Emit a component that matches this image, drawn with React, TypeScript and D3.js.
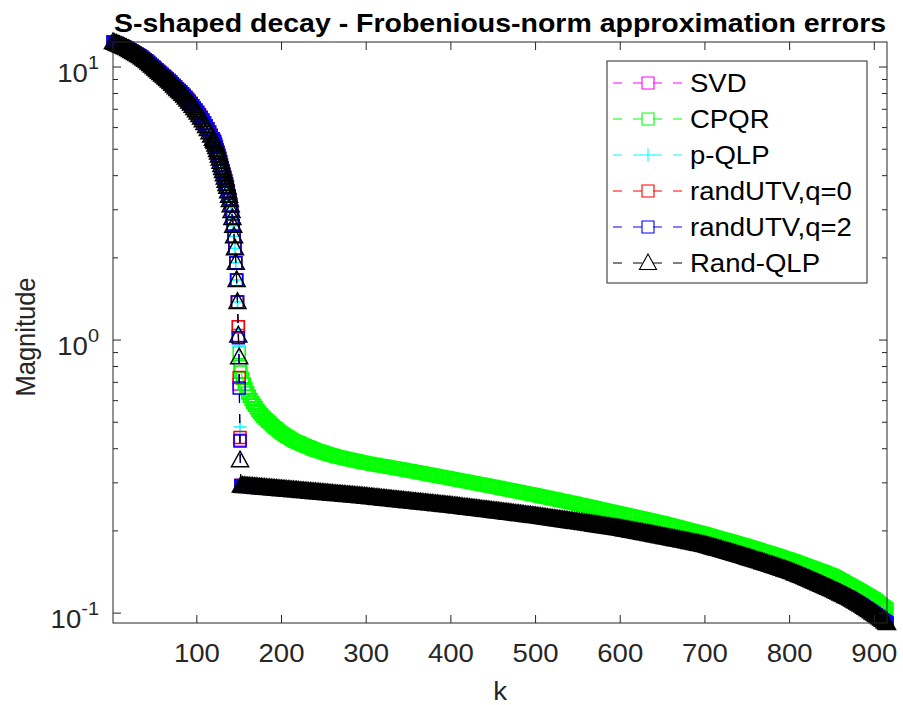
import React from "react";
import * as d3 from "d3";

// ---------- data ----------
// upper branch, shared by all methods (k = 1,3,...,119 then 120..148)
const kUpper = [...d3.range(1, 120, 2), ...d3.range(120, 149)];
const upperValues = [
  12.35, 12.27, 12.19, 12.11, 12.04, 11.96, 11.89, 11.81, 11.74, 11.64,
  11.54, 11.44, 11.35, 11.25, 11.16, 11.06, 10.97, 10.85, 10.74, 10.63,
  10.52, 10.39, 10.26, 10.13, 10.0, 9.87, 9.75, 9.63, 9.51, 9.39,
  9.27, 9.15, 9.04, 8.92, 8.81, 8.68, 8.56, 8.43, 8.31, 8.2,
  8.1, 7.98, 7.86, 7.73, 7.6, 7.47, 7.35, 7.21, 7.08, 6.94,
  6.81, 6.67, 6.53, 6.38, 6.24, 6.08, 5.93, 5.77, 5.61, 5.46,
  5.38, 5.31, 5.2, 5.09, 4.97, 4.86, 4.74, 4.62, 4.5, 4.38,
  4.27, 4.16, 4.05, 3.94, 3.83, 3.73, 3.64, 3.51, 3.38, 3.26,
  3.12, 2.97, 2.8, 2.62, 2.4, 2.17, 1.92, 1.66, 1.38,
];

// the drop, where the methods differ (k = 149, 150, 151)
const cliffK = [149, 150, 151];
const cliffSVD = [1.04, 0.69, 0.43];
const cliffCPQR = [1.12, 0.9, 0.8];
const cliffPQLP = [1.06, 0.95, 0.48];
const cliffUTV0 = [1.12, 0.73, 0.44];
const cliffUTV2 = [1.02, 0.667, 0.427];
const cliffRandQLP = [1.04, 0.866, 0.363];

// lower branch (k = 152,154,...,914, 915)
const kLower = [...d3.range(152, 915, 2), 915];
const lowerMain = [
  0.2931, 0.2927, 0.2923, 0.292, 0.2916, 0.2913, 0.2909, 0.2906, 0.2902, 0.2899, 0.2895, 0.2891, 0.2887, 0.2884, 0.288, 0.2877, 0.2873, 0.287, 0.2866, 0.2863, 0.2859, 0.2856, 0.2852, 0.2849, 0.2845,
  0.2842, 0.2838, 0.2835, 0.2831, 0.2828, 0.2824, 0.2821, 0.2817, 0.2814, 0.281,
  0.2806, 0.2802, 0.2799, 0.2795, 0.2792, 0.2788, 0.2785, 0.2781, 0.2778, 0.2774,
  0.2771, 0.2767, 0.2764, 0.276, 0.2757, 0.2753, 0.275, 0.2746, 0.2743, 0.2739,
  0.2736, 0.2732, 0.2729, 0.2725, 0.2722, 0.2718, 0.2715, 0.2711, 0.2708, 0.2705,
  0.2702, 0.2698, 0.2695, 0.2691, 0.2688, 0.2684, 0.2681, 0.2677, 0.2674, 0.267,
  0.2666, 0.2662, 0.2658, 0.2654, 0.265, 0.2646, 0.2642, 0.2638, 0.2634, 0.263,
  0.2626, 0.2622, 0.2618, 0.2614, 0.261, 0.2606, 0.2602, 0.2598, 0.2594, 0.259,
  0.2587, 0.2583, 0.2579, 0.2575, 0.2571, 0.2567, 0.2563, 0.2559, 0.2556, 0.2552,
  0.2548, 0.2544, 0.254, 0.2536, 0.2533, 0.2529, 0.2525, 0.2521, 0.2518, 0.2514,
  0.251, 0.2506, 0.2503, 0.2499, 0.2495, 0.2491, 0.2488, 0.2484, 0.248, 0.2476,
  0.2472, 0.2468, 0.2464, 0.2459, 0.2455, 0.2451, 0.2447, 0.2442, 0.2438, 0.2434,
  0.243, 0.2426, 0.2422, 0.2417, 0.2413, 0.2409, 0.2405, 0.24, 0.2396, 0.2392,
  0.2388, 0.2384, 0.238, 0.2375, 0.2371, 0.2367, 0.2363, 0.2358, 0.2354, 0.235,
  0.2346, 0.2342, 0.2338, 0.2333, 0.2329, 0.2325, 0.2321, 0.2316, 0.2312, 0.2308,
  0.2304, 0.23, 0.2296, 0.2291, 0.2287, 0.2283, 0.2279, 0.2274, 0.227, 0.2266,
  0.2262, 0.2257, 0.2253, 0.2248, 0.2244, 0.2239, 0.2235, 0.223, 0.2226, 0.2221,
  0.2217, 0.2212, 0.2208, 0.2203, 0.2199, 0.2194, 0.219, 0.2185, 0.2181, 0.2176,
  0.2172, 0.2167, 0.2163, 0.2158, 0.2154, 0.2149, 0.2145, 0.214, 0.2136, 0.2131,
  0.2127, 0.2122, 0.2118, 0.2113, 0.2109, 0.2104, 0.21, 0.2095, 0.209, 0.2085,
  0.2081, 0.2076, 0.2072, 0.2067, 0.2063, 0.2058, 0.2054, 0.2049, 0.2045, 0.204,
  0.2035, 0.2029, 0.2024, 0.2019, 0.2014, 0.2008, 0.2003, 0.1998, 0.1993, 0.1987,
  0.1982, 0.1976, 0.1971, 0.1966, 0.1961, 0.1955, 0.195, 0.1945, 0.194, 0.1934,
  0.1929, 0.1923, 0.1918, 0.1913, 0.1908, 0.1902, 0.1897, 0.1892, 0.1887, 0.1881,
  0.1876, 0.187, 0.1865, 0.186, 0.1855, 0.1849, 0.1844, 0.1839, 0.1834, 0.1828,
  0.1823, 0.1817, 0.1812, 0.1807, 0.1802, 0.1796, 0.1791, 0.1786, 0.1781, 0.1775,
  0.1768, 0.1761, 0.1754, 0.1747, 0.174, 0.1733, 0.1726, 0.1719, 0.1712, 0.1705,
  0.1698, 0.1691, 0.1684, 0.1677, 0.167, 0.1663, 0.1656, 0.1649, 0.1642, 0.1635,
  0.1628, 0.1621, 0.1614, 0.1607, 0.16, 0.1593, 0.1586, 0.1579, 0.1572, 0.1565,
  0.1558, 0.1551, 0.1544, 0.1537, 0.153, 0.1523, 0.1516, 0.1509, 0.1502, 0.1495,
  0.1488, 0.1481, 0.1474, 0.1467, 0.146, 0.1453, 0.1446, 0.1439, 0.1433, 0.1426,
  0.1418, 0.141, 0.1401, 0.1393, 0.1385, 0.1377, 0.1369, 0.1361, 0.1352, 0.1344,
  0.1336, 0.1328, 0.132, 0.1312, 0.1303, 0.1295, 0.1287, 0.1279, 0.1271, 0.1263,
  0.1254, 0.1246, 0.1238, 0.123, 0.1222, 0.1214, 0.1205, 0.1197, 0.1189, 0.1181,
  0.1173, 0.1165, 0.1156, 0.1148, 0.114,
  0.1131, 0.1122, 0.1113, 0.1104, 0.1094, 0.1085, 0.1075, 0.1066, 0.1056, 0.1046,
  0.1036, 0.1026, 0.1016, 0.1006, 0.0996, 0.0986, 0.0976, 0.0966, 0.0956, 0.0945,
  0.0934, 0.0925, 0.092,
];
const lowerCPQR = [
  0.7636, 0.725, 0.6902, 0.664, 0.6399, 0.6225, 0.6062, 0.5912, 0.5771, 0.565, 0.5534, 0.5435, 0.5341, 0.526, 0.5183, 0.5112, 0.5044, 0.4975, 0.4909, 0.4847, 0.4788, 0.473, 0.4675, 0.462, 0.4567,
  0.4525, 0.4485, 0.4445, 0.4406, 0.4366, 0.4326, 0.429, 0.4256, 0.423, 0.4205,
  0.418, 0.4154, 0.4129, 0.4104, 0.408, 0.4055, 0.403, 0.4005, 0.398, 0.3956,
  0.3939, 0.3922, 0.3905, 0.3888, 0.3871, 0.3854, 0.3837, 0.382, 0.3803, 0.3787,
  0.377, 0.3754, 0.3741, 0.3728, 0.3716, 0.3705, 0.3693, 0.3682, 0.367, 0.3658,
  0.3646, 0.3635, 0.3624, 0.3613, 0.3602, 0.3591, 0.358, 0.3568, 0.3557, 0.3546,
  0.3537, 0.3528, 0.3519, 0.351, 0.3501, 0.3492, 0.3483, 0.3474, 0.3465, 0.3457,
  0.3448, 0.344, 0.3431, 0.3423, 0.3414, 0.3406, 0.3397, 0.3388, 0.338, 0.3371,
  0.3362, 0.3354, 0.3345, 0.3336, 0.3328, 0.3319, 0.331, 0.3302, 0.3293, 0.3284,
  0.3275, 0.3266, 0.3257, 0.3249, 0.324, 0.3231, 0.3222, 0.3213, 0.3205, 0.3196,
  0.3187, 0.3179, 0.317, 0.3162, 0.3154, 0.3146, 0.3137, 0.3129, 0.312, 0.3112,
  0.3103, 0.3095, 0.3086, 0.3078, 0.3069, 0.3061, 0.3053, 0.3045, 0.3036, 0.3028,
  0.3019, 0.3011, 0.3003, 0.2995, 0.2986, 0.2978, 0.297, 0.2962, 0.2954, 0.2946,
  0.2938, 0.293, 0.2922, 0.2914, 0.2906, 0.2898, 0.289, 0.2882, 0.2873, 0.2865,
  0.2857, 0.2849, 0.284, 0.2832, 0.2824, 0.2816, 0.2808, 0.28, 0.2792, 0.2784,
  0.2776, 0.2768, 0.276, 0.2752, 0.2744, 0.2736, 0.2728, 0.2721, 0.2713, 0.2705,
  0.2697, 0.2689, 0.2681, 0.2673, 0.2665, 0.2657, 0.2649, 0.2641, 0.2633, 0.2625,
  0.2617, 0.261, 0.2601, 0.2593, 0.2585, 0.2578, 0.257, 0.2562, 0.2554, 0.2547,
  0.2539, 0.2531, 0.2523, 0.2515, 0.2507, 0.25, 0.2492, 0.2484, 0.2476, 0.2468,
  0.246, 0.2453, 0.2445, 0.2437, 0.2429, 0.2421, 0.2413, 0.2405, 0.2397, 0.239,
  0.2382, 0.2375, 0.2367, 0.236, 0.2352, 0.2345, 0.2337, 0.233, 0.2322, 0.2315,
  0.2307, 0.23, 0.2293, 0.2286, 0.2278, 0.2271, 0.2264, 0.2257, 0.2249, 0.2242,
  0.2235, 0.2228, 0.2221, 0.2214, 0.2206, 0.2199, 0.2192, 0.2185, 0.2178, 0.2171,
  0.2164, 0.2157, 0.215, 0.2144, 0.2136, 0.2129, 0.2121, 0.2113, 0.2105, 0.2098,
  0.209, 0.2082, 0.2074, 0.2067, 0.2059, 0.2052, 0.2044, 0.2036, 0.2028, 0.2021,
  0.2013, 0.2006, 0.1998, 0.1991, 0.1984, 0.1977, 0.1969, 0.1962, 0.1955, 0.1948,
  0.194, 0.1932, 0.1924, 0.1916, 0.1908, 0.1901, 0.1893, 0.1886, 0.1878, 0.187,
  0.1862, 0.1855, 0.1847, 0.184, 0.1832, 0.1825, 0.1817, 0.181, 0.1803, 0.1796,
  0.1789, 0.1782, 0.1774, 0.1767, 0.1759, 0.1752, 0.1744, 0.1737, 0.1729, 0.1721,
  0.1713, 0.1705, 0.1697, 0.169, 0.1682, 0.1675, 0.1667, 0.166, 0.1652, 0.1645,
  0.1637, 0.163, 0.1622, 0.1615, 0.1607, 0.16, 0.1593, 0.1586, 0.1578, 0.1571,
  0.1563, 0.1555, 0.1547, 0.1539, 0.1531, 0.1523, 0.1515, 0.1507, 0.1499, 0.1491,
  0.1483, 0.1476, 0.1468, 0.1461, 0.1453, 0.1445, 0.1437, 0.143, 0.1423, 0.1416,
  0.1408, 0.14, 0.1392, 0.1385, 0.1377, 0.1368, 0.1358, 0.1347, 0.1337, 0.1326,
  0.1316, 0.1305, 0.1295, 0.1285, 0.1275,
  0.1264, 0.1255, 0.1245, 0.1235, 0.1225, 0.1215, 0.1205, 0.1195, 0.1185, 0.1175,
  0.1165, 0.1155, 0.1146, 0.1136, 0.1127, 0.1115, 0.1102, 0.109, 0.1077, 0.1065,
  0.1053, 0.1041, 0.1035,
];

const seriesNames = ["SVD", "CPQR", "p-QLP", "randUTV,q=0", "randUTV,q=2", "Rand-QLP"];
const seriesColors = ["#ff00ff", "#00ff00", "#00ffff", "#ff0000", "#0000ff", "#000000"];
const seriesMarkers = ["square", "square", "plus", "square", "square", "triangle"];
const seriesCliffs = [cliffSVD, cliffCPQR, cliffPQLP, cliffUTV0, cliffUTV2, cliffRandQLP];

const xTicks = [100, 200, 300, 400, 500, 600, 700, 800, 900];
const yMajorTicks = [0.1, 1, 10];
const yTickExponents = ["-1", "0", "1"];
const yMinorTicks = [0.2, 0.3, 0.4, 0.5, 0.6, 0.7, 0.8, 0.9, 2, 3, 4, 5, 6, 7, 8, 9];

const titleText = "S-shaped decay - Frobenious-norm approximation errors";
const xLabel = "k";
const yLabel = "Magnitude";

// ---------- layout ----------
const W = 903;
const H = 705;
const AX = { left: 113, right: 887, top: 42, bottom: 623 };
const AXIS_COLOR = "#262626";
const FONT = "'Liberation Sans', Arial, Helvetica, sans-serif";
const SX = 1.08;

function markerShape(type: string, px: number, py: number): string {
  if (type === "square") return `M${px - 6},${py - 6}h12v12h-12z`;
  if (type === "triangle") return `M${px},${py - 9}L${px + 8.5},${py + 6.5}L${px - 8.5},${py + 6.5}z`;
  return `M${px - 6.5},${py}h13M${px},${py - 6.5}v13`;
}

function Txt(props: {
  x: number; y: number; size: number; anchor?: string; weight?: string; fill?: string;
  sx?: number; rotate?: number; children: React.ReactNode;
}) {
  const { x, y, size, anchor = "start", weight = "normal", fill = AXIS_COLOR, sx = SX, rotate = 0, children } = props;
  return (
    <g transform={`translate(${x},${y}) scale(${sx},1)${rotate ? ` rotate(${rotate})` : ""}`}>
      <text textAnchor={anchor} fontSize={size} fontWeight={weight} fill={fill} fontFamily={FONT}>
        {children}
      </text>
    </g>
  );
}

export default function App() {
  const x = d3.scaleLinear().domain([1, 915]).range([AX.left, AX.right]);
  const y = d3.scaleLog().domain([0.092, 12.35]).range([AX.bottom, AX.top]);
  const line = d3
    .line<[number, number]>()
    .x((d) => x(d[0]))
    .y((d) => y(d[1]));

  const allK = [...kUpper, ...cliffK, ...kLower];
  const series = seriesNames.map((name, i) => {
    const lower = i === 1 ? lowerCPQR : lowerMain;
    const vals = [...upperValues, ...seriesCliffs[i], ...lower];
    const n = Math.min(allK.length, vals.length);
    const pts: [number, number][] = [];
    for (let j = 0; j < n; j++) pts.push([allK[j], vals[j]]);
    return { name, color: seriesColors[i], marker: seriesMarkers[i], pts };
  });

  const legendX = 607;
  const legendY = 61;
  const legendW = 260;
  const legendH = 222;
  const rowY = (i: number) => 83 + 36 * i;

  return (
    <svg
      width={W}
      height={H}
      style={{ position: "absolute", left: 0, top: 0, background: "#fff" }}
      xmlns="http://www.w3.org/2000/svg"
    >
      <rect x={0} y={0} width={W} height={H} fill="#fff" />
      <Txt x={(AX.left + AX.right) / 2} y={32} size={26.5} anchor="middle" weight="bold" fill="#000" sx={1.075}>
        {titleText}
      </Txt>

      {series.map((s) => (
        <g key={s.name}>
          <path d={line(s.pts) || ""} fill="none" stroke={s.color} strokeWidth={1} strokeDasharray="9,11" />
          <path
            d={s.pts.map((p) => markerShape(s.marker, x(p[0]), y(p[1]))).join("")}
            fill="none"
            stroke={s.color}
            strokeWidth={1.5}
          />
        </g>
      ))}

      <rect
        x={AX.left}
        y={AX.top}
        width={AX.right - AX.left}
        height={AX.bottom - AX.top}
        fill="none"
        stroke={AXIS_COLOR}
        strokeWidth={1}
      />
      {xTicks.map((t) => (
        <g key={`xt${t}`}>
          <line x1={x(t)} x2={x(t)} y1={AX.bottom} y2={AX.bottom - 8} stroke={AXIS_COLOR} />
          <line x1={x(t)} x2={x(t)} y1={AX.top} y2={AX.top + 8} stroke={AXIS_COLOR} />
          <Txt x={x(t)} y={662} size={25.5} anchor="middle">
            {String(t)}
          </Txt>
        </g>
      ))}
      {yMajorTicks.map((t, i) => (
        <g key={`yt${t}`}>
          <line x1={AX.left} x2={AX.left + 8} y1={y(t)} y2={y(t)} stroke={AXIS_COLOR} />
          <line x1={AX.right} x2={AX.right - 8} y1={y(t)} y2={y(t)} stroke={AXIS_COLOR} />
          <Txt x={99} y={y(t) + 15} size={25.5} anchor="end">
            10
            <tspan dy={-13} fontSize={18.5}>
              {yTickExponents[i]}
            </tspan>
          </Txt>
        </g>
      ))}
      {yMinorTicks.map((t) => (
        <g key={`ym${t}`}>
          <line x1={AX.left} x2={AX.left + 5} y1={y(t)} y2={y(t)} stroke={AXIS_COLOR} />
          <line x1={AX.right} x2={AX.right - 5} y1={y(t)} y2={y(t)} stroke={AXIS_COLOR} />
        </g>
      ))}

      <Txt x={(AX.left + AX.right) / 2} y={700} size={25.5} anchor="middle">
        {xLabel}
      </Txt>
      <Txt x={35} y={337} size={25.5} anchor="middle" rotate={-90}>
        {yLabel}
      </Txt>

      <rect x={legendX} y={legendY} width={legendW} height={legendH} fill="#fff" stroke={AXIS_COLOR} strokeWidth={1} />
      {series.map((s, i) => {
        const cy = rowY(i);
        return (
          <g key={`lg${s.name}`}>
            <line x1={613} x2={682} y1={cy} y2={cy} stroke={s.color} strokeWidth={1} strokeDasharray="9,11" />
            <path d={markerShape(s.marker, 648, cy)} fill="none" stroke={s.color} strokeWidth={1.1} />
            <Txt x={690} y={cy + 9} size={25.5} fill="#000">
              {s.name}
            </Txt>
          </g>
        );
      })}
    </svg>
  );
}
